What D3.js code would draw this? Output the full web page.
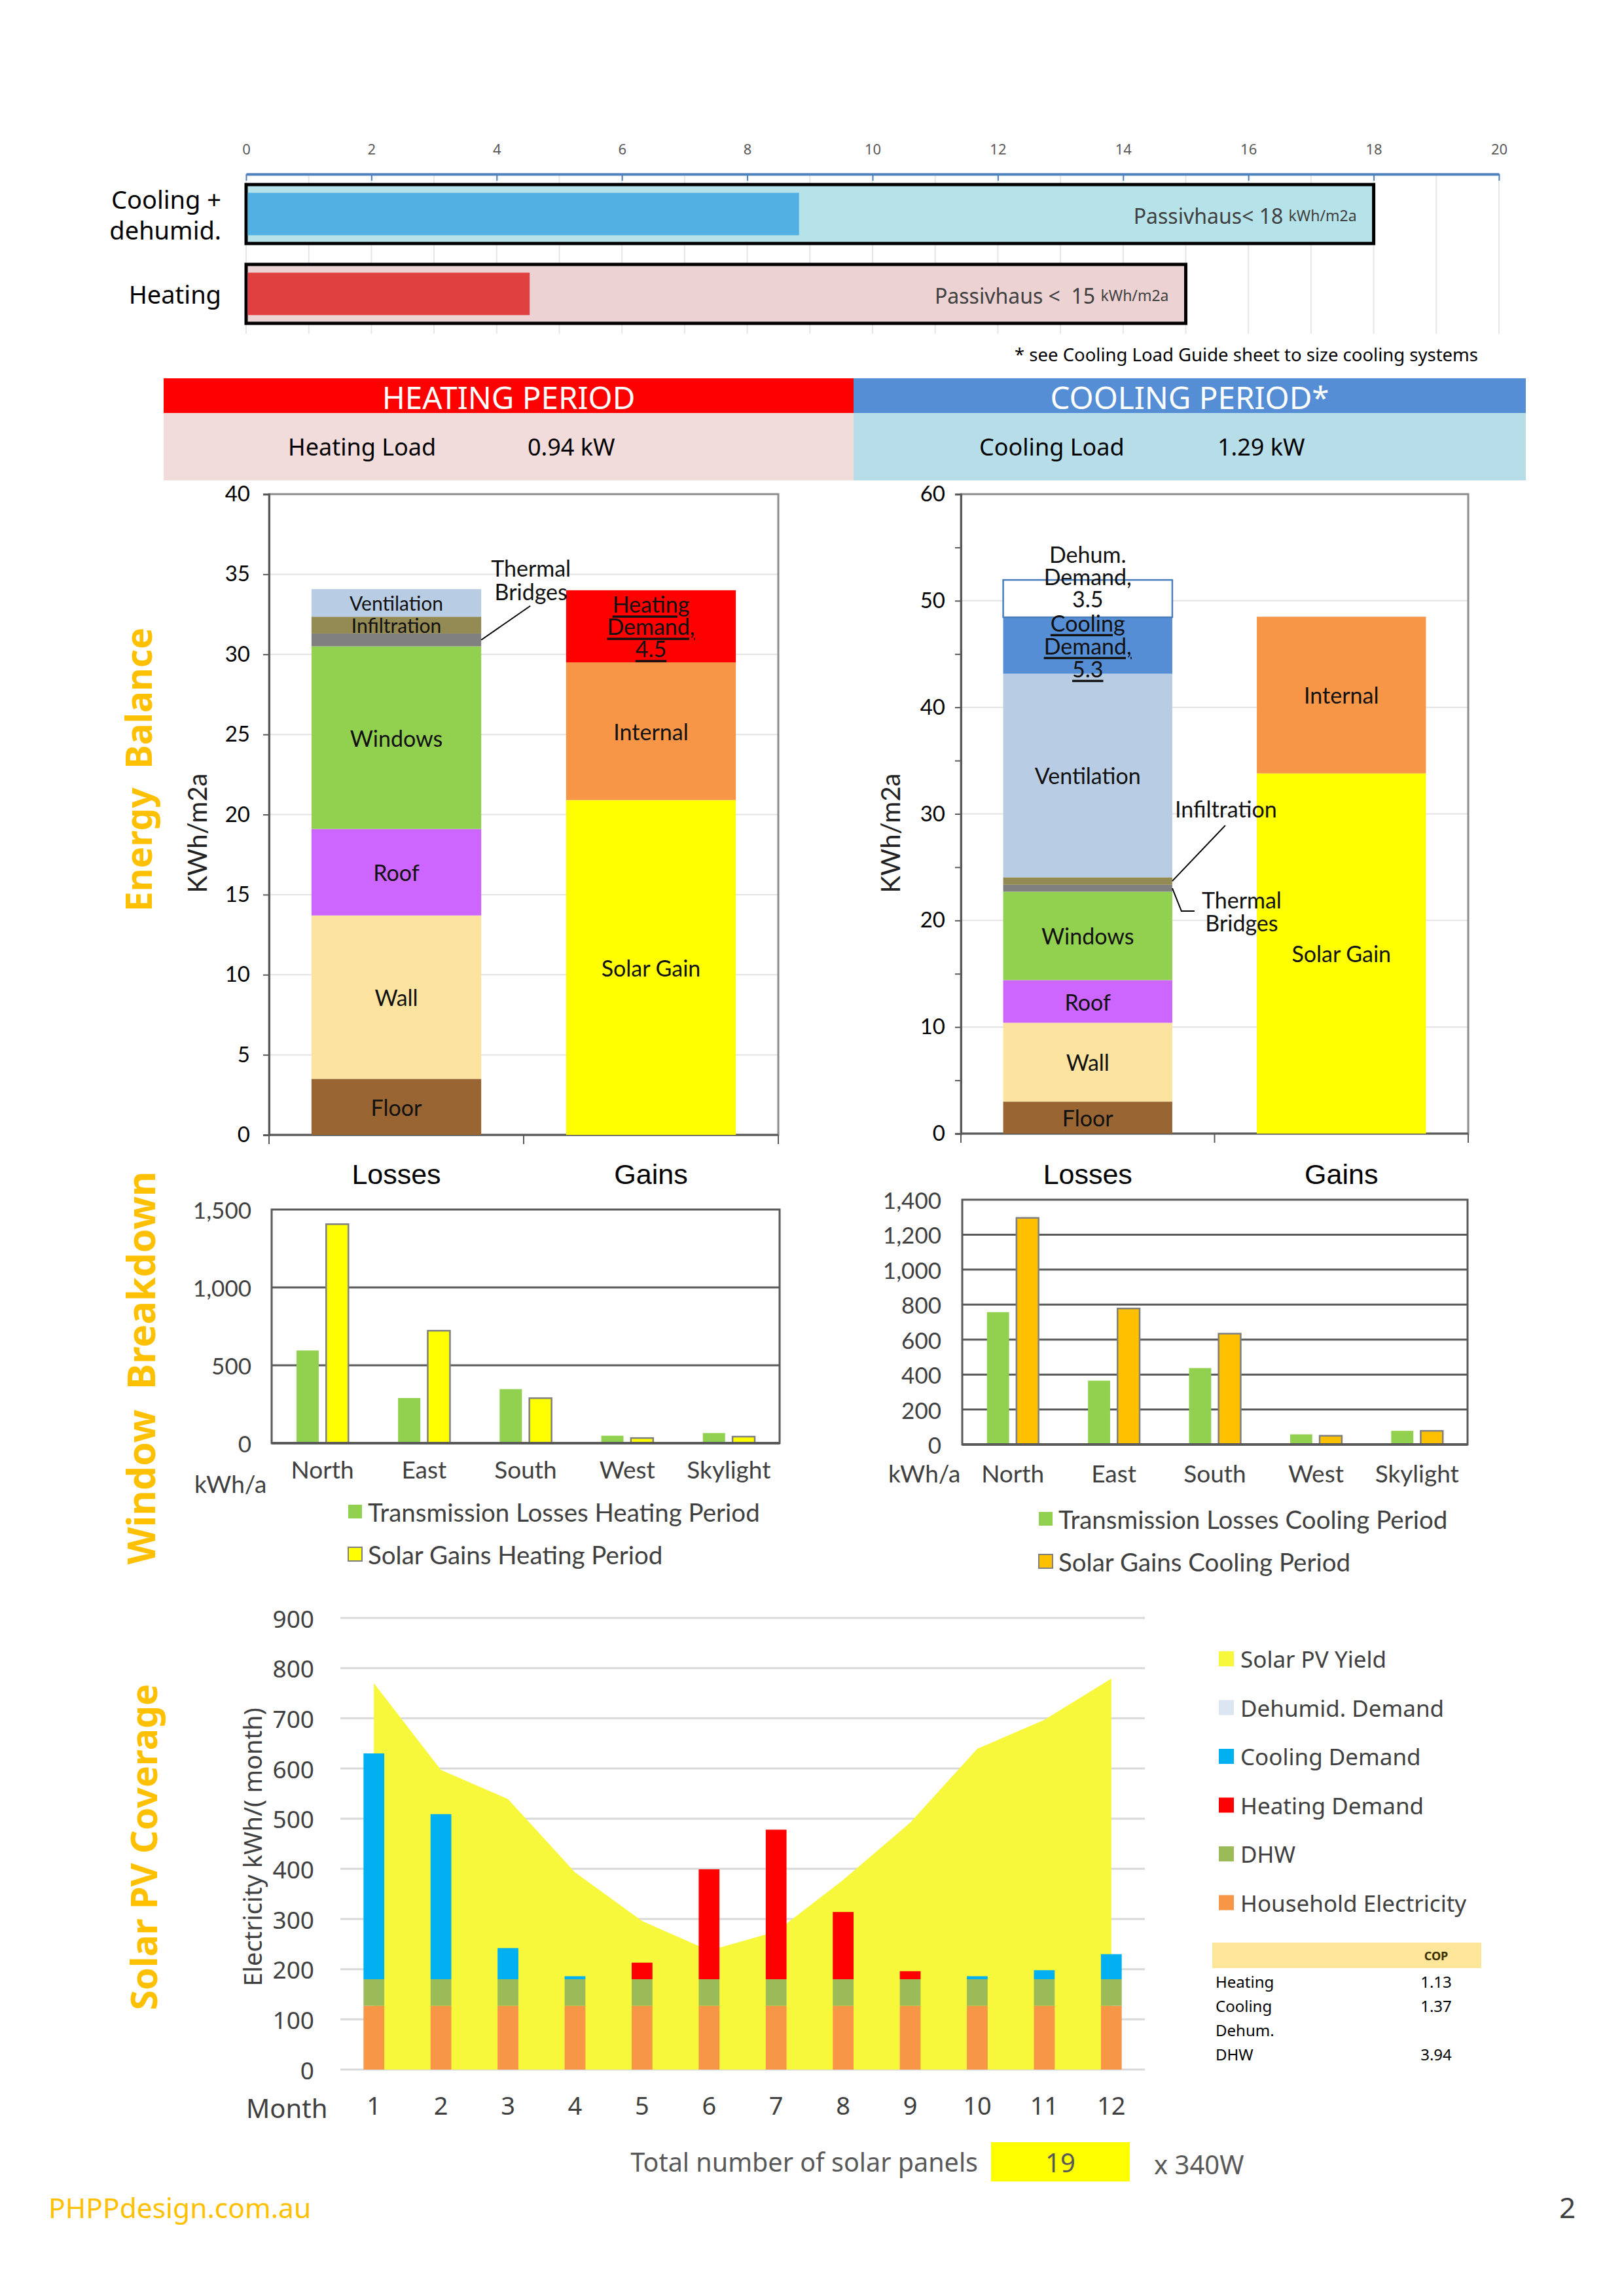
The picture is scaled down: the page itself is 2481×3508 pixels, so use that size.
<!DOCTYPE html>
<html>
<head>
<meta charset="utf-8">
<script src="https://cdn.jsdelivr.net/npm/d3@7"></script>
<style>
  body { margin: 0; background: #fff; }
</style>
</head>
<body>
<svg id="page"></svg>
<script>
// ---------- data ----------
// top summary bars (kWh/m2a)
const topCats = ["Cooling +\ndehumid.", "Heating"];
const topLimits = [18, 15];
const topValues = [8.8, 4.5];
const topLimitText = ["Passivhaus< 18 ", "Passivhaus <  15 "];

// period header
const periodNames = ["HEATING PERIOD", "COOLING PERIOD*"];
const periodLoadNames = ["Heating Load", "Cooling Load"];
const periodLoads = ["0.94 kW", "1.29 kW"];

// energy balance, heating period (kWh/m2a), bottom -> top
const heatLossCats = ["Floor", "Wall", "Roof", "Windows", "Thermal Bridges", "Infiltration", "Ventilation"];
const heatLossVals = [3.5, 10.2, 5.4, 11.4, 0.8, 1.05, 1.72];
const heatGainCats = ["Solar Gain", "Internal", "Heating Demand"];
const heatGainVals = [20.9, 8.6, 4.5];

// energy balance, cooling period
const coolLossCats = ["Floor", "Wall", "Roof", "Windows", "Thermal Bridges", "Infiltration", "Ventilation", "Cooling Demand", "Dehum. Demand"];
const coolLossVals = [3.0, 7.4, 4.0, 8.3, 0.65, 0.7, 19.1, 5.3, 3.5];
const coolGainCats = ["Solar Gain", "Internal"];
const coolGainVals = [33.8, 14.7];

// window breakdown (kWh/a)
const orientations = ["North", "East", "South", "West", "Skylight"];
const heatTransLoss = [595, 290, 347, 48, 65];
const heatSolarGain = [1406, 722, 289, 33, 42];
const coolTransLoss = [757, 365, 437, 58, 78];
const coolSolarGain = [1296, 778, 634, 50, 78];

// solar PV coverage (kWh/month)
const months = [1, 2, 3, 4, 5, 6, 7, 8, 9, 10, 11, 12];
const pvYield = [770, 597, 539, 393, 296, 237, 275, 378, 492, 639, 697, 779];
const household = [127, 127, 127, 127, 127, 127, 127, 127, 127, 127, 127, 127];
const dhw = [53, 53, 53, 53, 53, 53, 53, 53, 53, 53, 53, 53];
const heatingDemand = [0, 0, 0, 0, 33, 219, 298, 134, 16, 0, 0, 0];
const coolingDemand = [450, 329, 62, 6, 0, 0, 0, 0, 0, 6, 18, 50];
const dehumidDemand = [0, 0, 0, 0, 0, 0, 0, 0, 0, 0, 0, 0];
const pvLegend = ["Solar PV Yield", "Dehumid. Demand", "Cooling Demand", "Heating Demand", "DHW", "Household Electricity"];

const copLabels = ["Heating", "Cooling", "Dehum.", "DHW"];
const copValues = ["1.13", "1.37", "", "3.94"];
const panelCount = 19;

// ---------- styles ----------
const SEGOE = "'Noto Sans', 'Open Sans', sans-serif";
const GOTHIC = "'Lato', 'DejaVu Sans', sans-serif";
const ARIAL = "'Liberation Sans', Arial, sans-serif";
const GOLD = "#FFC000";

const colors = {
  "Floor": "#996633", "Wall": "#FCE4A0", "Roof": "#CC66FF", "Windows": "#92D050",
  "Thermal Bridges": "#808080", "Infiltration": "#948A54", "Ventilation": "#B8CCE4",
  "Heating Demand": "#FF0000", "Internal": "#F79646", "Solar Gain": "#FFFF00",
  "Cooling Demand": "#558ED5", "Dehum. Demand": "#FFFFFF"
};
const pvColors = {
  "Solar PV Yield": "#F7F73C", "Dehumid. Demand": "#DCE6F2", "Cooling Demand": "#00B0F0",
  "Heating Demand": "#FF0000", "DHW": "#9BBB59", "Household Electricity": "#F79646"
};

const W = 2481, H = 3508;
const svg = d3.select("#page").attr("width", W).attr("height", H);
svg.append("rect").attr("width", W).attr("height", H).attr("fill", "#fff");

function txt(g, x, y, s, size, o = {}) {
  return g.append("text")
    .attr("x", x).attr("y", y)
    .attr("font-size", size)
    .attr("font-family", o.font || SEGOE)
    .attr("fill", o.fill || "#000")
    .attr("font-weight", o.weight || "normal")
    .attr("text-anchor", o.anchor || "start")
    .attr("dominant-baseline", "central")
    .style("white-space", "pre")
    .text(s);
}

function vtitle(g, x, y, s, size, o = {}) {
  return g.append("text")
    .attr("transform", `translate(${x},${y}) rotate(-90)`)
    .attr("font-size", size)
    .attr("font-family", o.font || SEGOE)
    .attr("fill", o.fill || "#000")
    .attr("font-weight", o.weight || "normal")
    .attr("text-anchor", "middle")
    .attr("dominant-baseline", "central")
    .style("white-space", "pre")
    .text(s);
}

// ---------- top summary chart ----------
function drawTop() {
  const g = svg.append("g");
  const x = d3.scaleLinear().domain([0, 20]).range([376, 2290]);
  const y = d3.scaleBand().domain(topCats).range([266, 510]).paddingInner(0.262).paddingOuter(0.131);

  g.append("g").selectAll("line")
    .data(d3.range(0, 21))
    .join("line")
    .attr("x1", d => x(d)).attr("x2", d => x(d))
    .attr("y1", 266).attr("y2", 510)
    .attr("stroke", "#E6E6E6").attr("stroke-width", 2);

  g.append("g")
    .attr("transform", "translate(0,266)")
    .call(d3.axisTop(x).tickValues(d3.range(0, 21, 2)).tickSizeInner(-10).tickSizeOuter(0).tickPadding(30))
    .call(a => a.select(".domain").attr("stroke", "#4F81BD").attr("stroke-width", 4))
    .call(a => a.selectAll(".tick line").attr("stroke", "#4F81BD").attr("stroke-width", 2))
    .call(a => a.selectAll(".tick text").attr("font-size", 22).attr("font-family", SEGOE).attr("fill", "#595959"));

  const outerFill = ["#B6E2E9", "#ECD2D3"];
  const innerFill = ["#52B0E2", "#E0403F"];

  topCats.forEach((c, i) => {
    const bw = y.bandwidth();
    g.append("rect")
      .attr("x", x(0)).attr("y", y(c))
      .attr("width", x(topLimits[i]) - x(0)).attr("height", bw)
      .attr("fill", outerFill[i]).attr("stroke", "#000").attr("stroke-width", 5);
    g.append("rect")
      .attr("x", x(0) + 2.5).attr("y", y(c) + bw * 0.14)
      .attr("width", x(topValues[i]) - x(0)).attr("height", bw * 0.72)
      .attr("fill", innerFill[i]);

    const t = txt(g, x(topLimits[i]) - 26, y(c) + bw / 2 + 2, "", 32, { anchor: "end", fill: "#404040" });
    t.append("tspan").text(topLimitText[i]);
    t.append("tspan").attr("font-size", 23).text("kWh/m2a");

    const lines = c.split("\n");
    lines.forEach((l, j) => {
      txt(g, 338, y(c) + bw / 2 + (j - (lines.length - 1) / 2) * 47, l, 38, { anchor: "end" });
    });
  });

  txt(g, 2258, 541, "* see Cooling Load Guide sheet to size cooling systems", 27.5, { anchor: "end" });
}

// ---------- header bands ----------
function drawHeader() {
  const g = svg.append("g");
  const edges = [250, 1304, 2331];
  const bandCol = ["#FF0000", "#558ED5"];
  const lightCol = ["#F2DCDB", "#B7DEE8"];
  periodNames.forEach((p, i) => {
    const x0 = edges[i];
    const w = edges[i + 1] - edges[i];
    g.append("rect").attr("x", x0).attr("y", 578).attr("width", w).attr("height", 53).attr("fill", bandCol[i]);
    g.append("rect").attr("x", x0).attr("y", 631).attr("width", w).attr("height", 103).attr("fill", lightCol[i]);
    txt(g, x0 + w / 2, 606, p, 47.5, { anchor: "middle", fill: "#fff" });
    txt(g, x0 + (i === 0 ? 190 : 192), 682, periodLoadNames[i], 36);
    txt(g, x0 + (i === 0 ? 556 : 556), 682, periodLoads[i], 36);
  });
}

// ---------- energy balance ----------
function stackSegs(cats, vals) {
  let acc = 0;
  return cats.map((c, i) => {
    const s = { cat: c, v: vals[i], y0: acc, y1: acc + vals[i] };
    acc += vals[i];
    return s;
  });
}

function segLabel(s) {
  if (s.cat === "Heating Demand") return { lines: ["Heating", "Demand,", d3.format(".1f")(s.v)], dy: [-34, 0, 34], u: true };
  if (s.cat === "Cooling Demand") return { lines: ["Cooling", "Demand,", d3.format(".1f")(s.v)], dy: [-35, 0, 35], u: true };
  if (s.cat === "Dehum. Demand") return { lines: ["Dehum.", "Demand,", d3.format(".1f")(s.v)], dy: [-68, -34, 0], u: false };
  return { lines: [s.cat], dy: [0], u: false };
}

function drawBalance(cfg) {
  const g = svg.append("g");
  const x = d3.scaleBand().domain(["Losses", "Gains"]).range([cfg.left, cfg.right]).paddingInner(1 / 3).paddingOuter(1 / 6);
  const y = d3.scaleLinear().domain([0, cfg.max]).range([cfg.bottom, cfg.top]);

  g.append("g").selectAll("line")
    .data(d3.range(cfg.step, cfg.max, cfg.step))
    .join("line")
    .attr("x1", cfg.left).attr("x2", cfg.right)
    .attr("y1", d => y(d)).attr("y2", d => y(d))
    .attr("stroke", "#E3E3E3").attr("stroke-width", 2);

  g.append("rect")
    .attr("x", cfg.left).attr("y", cfg.top)
    .attr("width", cfg.right - cfg.left).attr("height", cfg.bottom - cfg.top)
    .attr("fill", "none").attr("stroke", "#8C8C8C").attr("stroke-width", 3);

  g.append("g")
    .attr("transform", `translate(${cfg.left},0)`)
    .call(d3.axisLeft(y).tickValues(d3.range(0, cfg.max + 0.01, cfg.minor)).tickSize(9).tickPadding(cfg.pad)
      .tickFormat(d => d % cfg.step === 0 ? d : ""))
    .call(a => a.select(".domain").attr("stroke", "#595959").attr("stroke-width", 3))
    .call(a => a.selectAll(".tick line").attr("stroke", "#595959").attr("stroke-width", 2))
    .call(a => a.selectAll(".tick text").attr("font-size", 33).attr("font-family", GOTHIC).attr("fill", "#000"));

  // category separators below the axis
  g.append("g").selectAll("line")
    .data([cfg.left, (cfg.left + cfg.right) / 2, cfg.right])
    .join("line")
    .attr("x1", d => d).attr("x2", d => d)
    .attr("y1", cfg.bottom).attr("y2", cfg.bottom + 14)
    .attr("stroke", "#595959").attr("stroke-width", 2);
  g.append("line")
    .attr("x1", cfg.left).attr("x2", cfg.right)
    .attr("y1", cfg.bottom).attr("y2", cfg.bottom)
    .attr("stroke", "#595959").attr("stroke-width", 3);

  const cols = [["Losses", stackSegs(cfg.lossCats, cfg.lossVals)], ["Gains", stackSegs(cfg.gainCats, cfg.gainVals)]];
  cols.forEach(([col, segs]) => {
    g.append("g").selectAll("rect")
      .data(segs)
      .join("rect")
      .attr("x", x(col)).attr("width", x.bandwidth())
      .attr("y", d => y(d.y1)).attr("height", d => y(d.y0) - y(d.y1))
      .attr("fill", d => colors[d.cat])
      .attr("stroke", d => d.cat === "Dehum. Demand" ? "#4A7EBB" : "none")
      .attr("stroke-width", 2.5);

    segs.forEach(s => {
      if (cfg.external.includes(s.cat)) return;
      const lab = segLabel(s);
      const cy = y((s.y0 + s.y1) / 2);
      // thin segments get a slightly smaller label so neighbours don't collide
      const fs = (y(s.y0) - y(s.y1)) < 45 && lab.lines.length === 1 ? 30 : 34;
      lab.lines.forEach((l, j) => {
        txt(g, x(col) + x.bandwidth() / 2, cy + lab.dy[j], l, fs, { anchor: "middle", font: GOTHIC, fill: "#111" })
          .attr("text-decoration", lab.u ? "underline" : null);
      });
    });
  });

  x.domain().forEach(c => txt(g, x(c) + x.bandwidth() / 2, 1794, c, 43, { anchor: "middle", font: ARIAL }));
  vtitle(g, cfg.titleX, 1273, "KWh/m2a", 40, { font: GOTHIC, fill: "#222" });

  return { g, x, y, segs: cols[0][1] };
}

function drawBalances() {
  const L = drawBalance({
    left: 411, right: 1189, top: 755, bottom: 1734, max: 40, step: 5, minor: 5, titleX: 301, pad: 20,
    lossCats: heatLossCats, lossVals: heatLossVals, gainCats: heatGainCats, gainVals: heatGainVals,
    external: ["Thermal Bridges"]
  });
  // thermal bridges callout (heating)
  {
    const s = L.segs.find(d => d.cat === "Thermal Bridges");
    const px = L.x("Losses") + L.x.bandwidth(), py = L.y((s.y0 + s.y1) / 2);
    L.g.append("line").attr("x1", px).attr("y1", py).attr("x2", px + 75).attr("y2", py - 52)
      .attr("stroke", "#000").attr("stroke-width", 2);
    txt(L.g, px + 76, py - 110, "Thermal", 34, { anchor: "middle", font: GOTHIC, fill: "#111" });
    txt(L.g, px + 76, py - 74, "Bridges", 34, { anchor: "middle", font: GOTHIC, fill: "#111" });
  }

  const R = drawBalance({
    left: 1468, right: 2243, top: 755, bottom: 1732, max: 60, step: 10, minor: 5, titleX: 1360, pad: 15,
    lossCats: coolLossCats, lossVals: coolLossVals, gainCats: coolGainCats, gainVals: coolGainVals,
    external: ["Thermal Bridges", "Infiltration"]
  });
  {
    const px = R.x("Losses") + R.x.bandwidth();
    const inf = R.segs.find(d => d.cat === "Infiltration");
    const iy = R.y((inf.y0 + inf.y1) / 2);
    R.g.append("line").attr("x1", px).attr("y1", iy).attr("x2", px + 81).attr("y2", iy - 85)
      .attr("stroke", "#000").attr("stroke-width", 2);
    txt(R.g, px + 82, iy - 111, "Infiltration", 34, { anchor: "middle", font: GOTHIC, fill: "#111" });

    const tb = R.segs.find(d => d.cat === "Thermal Bridges");
    const ty = R.y((tb.y0 + tb.y1) / 2);
    R.g.append("path").attr("d", `M${px},${ty}L${px + 14},${ty + 35}H${px + 34}`)
      .attr("fill", "none").attr("stroke", "#000").attr("stroke-width", 2);
    txt(R.g, px + 106, ty + 17, "Thermal", 34, { anchor: "middle", font: GOTHIC, fill: "#111" });
    txt(R.g, px + 106, ty + 52, "Bridges", 34, { anchor: "middle", font: GOTHIC, fill: "#111" });
  }

  vtitle(svg, 210, 1176, "Energy  Balance", 55, { weight: "bold", fill: GOLD });
}

// ---------- window breakdown ----------
function drawWindows(cfg) {
  const g = svg.append("g");
  const x0 = d3.scaleBand().domain(orientations).range([cfg.left, cfg.right]).paddingInner(0.489).paddingOuter(0.2445);
  const x1 = d3.scaleBand().domain(["loss", "gain"]).range([0, x0.bandwidth()]).paddingInner(0.25);
  const y = d3.scaleLinear().domain([0, cfg.max]).range([cfg.bottom, cfg.top]);

  g.append("g").selectAll("line")
    .data(d3.range(cfg.step, cfg.max, cfg.step))
    .join("line")
    .attr("x1", cfg.left).attr("x2", cfg.right)
    .attr("y1", d => y(d)).attr("y2", d => y(d))
    .attr("stroke", "#595959").attr("stroke-width", 3);
  g.append("rect")
    .attr("x", cfg.left).attr("y", cfg.top)
    .attr("width", cfg.right - cfg.left).attr("height", cfg.bottom - cfg.top)
    .attr("fill", "none").attr("stroke", "#595959").attr("stroke-width", 3);

  const rows = orientations.map((o, i) => ({ o, loss: cfg.loss[i], gain: cfg.gain[i] }));
  const grp = g.append("g").selectAll("g").data(rows).join("g")
    .attr("transform", d => `translate(${x0(d.o)},0)`);
  grp.append("rect")
    .attr("x", x1("loss")).attr("width", x1.bandwidth())
    .attr("y", d => y(d.loss)).attr("height", d => y(0) - y(d.loss))
    .attr("fill", "#92D050");
  grp.append("rect")
    .attr("x", x1("gain")).attr("width", x1.bandwidth())
    .attr("y", d => y(d.gain)).attr("height", d => y(0) - y(d.gain))
    .attr("fill", cfg.gainColor).attr("stroke", "#7F7F7F").attr("stroke-width", 2.5);

  g.append("line").attr("x1", cfg.left).attr("x2", cfg.right).attr("y1", y(0)).attr("y2", y(0))
    .attr("stroke", "#595959").attr("stroke-width", 4);

  d3.range(0, cfg.max + 1, cfg.step).forEach(v => {
    txt(g, cfg.labelRight, y(v), d3.format(",")(v), 35, { anchor: "end", font: GOTHIC, fill: "#404040" });
  });
  orientations.forEach(o => txt(g, x0(o) + x0.bandwidth() / 2, cfg.catY, o, 37, { anchor: "middle", font: GOTHIC, fill: "#404040" }));
  txt(g, cfg.unitX, cfg.unitY, "kWh/a", 37, { font: GOTHIC, fill: "#404040" });

  cfg.legend.forEach((l, i) => {
    const ly = cfg.legY + i * 65;
    g.append("rect").attr("x", cfg.legX).attr("y", ly - 11).attr("width", 21).attr("height", 21)
      .attr("fill", i === 0 ? "#92D050" : cfg.gainColor)
      .attr("stroke", i === 0 ? "none" : "#7F7F7F").attr("stroke-width", 2);
    txt(g, cfg.legX + 30, ly, l, 38.5, { font: GOTHIC, fill: "#404040" });
  });
}

function drawWindowSection() {
  drawWindows({
    left: 415, right: 1191, top: 1848, bottom: 2205, max: 1500, step: 500,
    loss: heatTransLoss, gain: heatSolarGain, gainColor: "#FFFF00",
    labelRight: 384, catY: 2244, unitX: 297, unitY: 2266,
    legX: 532, legY: 2310,
    legend: ["Transmission Losses Heating Period", "Solar Gains Heating Period"]
  });
  drawWindows({
    left: 1470, right: 2242, top: 1833, bottom: 2207, max: 1400, step: 200,
    loss: coolTransLoss, gain: coolSolarGain, gainColor: "#FFC000",
    labelRight: 1438, catY: 2250, unitX: 1357, unitY: 2250,
    legX: 1587, legY: 2321,
    legend: ["Transmission Losses Cooling Period", "Solar Gains Cooling Period"]
  });
  vtitle(svg, 214, 2090, "Window  Breakdown", 59, { weight: "bold", fill: GOLD });
}

// ---------- solar PV coverage ----------
function drawSolar() {
  const g = svg.append("g");
  const x = d3.scaleBand().domain(months).range([520, 1749]).paddingInner(0.69).paddingOuter(0.345);
  const y = d3.scaleLinear().domain([0, 900]).range([3162, 2472]);

  g.append("g").selectAll("line")
    .data(y.ticks(9))
    .join("line")
    .attr("x1", 520).attr("x2", 1749)
    .attr("y1", d => y(d)).attr("y2", d => y(d))
    .attr("stroke", "#D9D9D9").attr("stroke-width", 3);

  const pv = months.map((m, i) => ({ m, v: pvYield[i] }));
  g.append("path")
    .datum(pv)
    .attr("fill", pvColors["Solar PV Yield"])
    .attr("d", d3.area()
      .x(d => x(d.m) + x.bandwidth() / 2)
      .y0(y(0))
      .y1(d => y(d.v)));

  const table = months.map((m, i) => ({
    m,
    "Household Electricity": household[i],
    "DHW": dhw[i],
    "Heating Demand": heatingDemand[i],
    "Cooling Demand": coolingDemand[i],
    "Dehumid. Demand": dehumidDemand[i]
  }));
  const keys = ["Household Electricity", "DHW", "Heating Demand", "Cooling Demand", "Dehumid. Demand"];
  const series = d3.stack().keys(keys)(table);

  g.append("g").selectAll("g")
    .data(series)
    .join("g")
    .attr("fill", d => pvColors[d.key])
    .selectAll("rect")
    .data(d => d)
    .join("rect")
    .attr("x", d => x(d.data.m))
    .attr("width", x.bandwidth())
    .attr("y", d => y(d[1]))
    .attr("height", d => y(d[0]) - y(d[1]));

  y.ticks(9).forEach(v => txt(g, 480, y(v), v, 37, { anchor: "end", fill: "#404040" }));
  months.forEach(m => txt(g, x(m) + x.bandwidth() / 2, 3216, m, 38, { anchor: "middle", fill: "#404040" }));
  txt(g, 376, 3220, "Month", 40, { fill: "#404040" });
  vtitle(g, 385, 2822, "Electricity kWh/( month)", 38, { fill: "#404040" });
  vtitle(svg, 218, 2822, "Solar PV Coverage", 55.5, { weight: "bold", fill: GOLD });

  // legend
  pvLegend.forEach((k, i) => {
    const ly = 2534.5 + i * 74.5;
    g.append("rect").attr("x", 1862).attr("y", ly - 11.5).attr("width", 23).attr("height", 23).attr("fill", pvColors[k]);
    txt(g, 1895, ly, k, 35, { fill: "#404040" });
  });

  // COP table
  g.append("rect").attr("x", 1852).attr("y", 2968).attr("width", 411).attr("height", 39).attr("fill", "#FFE699");
  txt(g, 2194, 2988, "COP", 18, { anchor: "middle", weight: "bold", fill: "#3a3000" });
  copLabels.forEach((c, i) => {
    const ry = 3027 + i * 37;
    txt(g, 1857, ry, c, 24);
    txt(g, 2194, ry, copValues[i], 24, { anchor: "middle" });
  });

  // panels
  txt(g, 1494, 3303, "Total number of solar panels", 39.5, { anchor: "end", fill: "#595959" });
  g.append("rect").attr("x", 1514).attr("y", 3273).attr("width", 212).attr("height", 60).attr("fill", "#FFFF00");
  txt(g, 1620, 3303, panelCount, 40, { anchor: "middle", fill: "#595959" });
  txt(g, 1763, 3306, "x 340W", 40, { fill: "#595959" });
}

drawTop();
drawHeader();
drawBalances();
drawWindowSection();
drawSolar();

txt(svg, 74, 3372, "PHPPdesign.com.au", 42.5, { fill: GOLD });
txt(svg, 2382, 3372, "2", 44, { fill: "#404040" });
</script>
</body>
</html>
